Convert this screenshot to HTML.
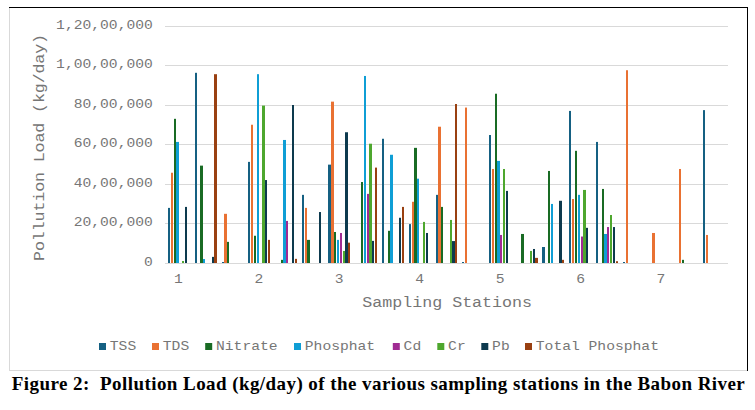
<!DOCTYPE html>
<html><head><meta charset="utf-8"><style>
html,body{margin:0;padding:0;width:755px;height:410px;overflow:hidden;background:#fff}
</style></head><body>
<svg width="755" height="410" style="position:absolute;left:0;top:0">
<rect x="0" y="0" width="755" height="410" fill="#fff"/>
<rect x="9" y="370" width="739" height="1" fill="#D9D9D9"/>
<rect x="9" y="7" width="1" height="364" fill="#D9D9D9"/>
<rect x="9" y="7" width="739" height="1" fill="#000"/>
<rect x="747" y="7" width="1" height="364" fill="#000"/>
<rect x="165.0" y="26" width="563.0" height="1" fill="#D9D9D9"/><rect x="165.0" y="65" width="563.0" height="1" fill="#D9D9D9"/><rect x="165.0" y="105" width="563.0" height="1" fill="#D9D9D9"/><rect x="165.0" y="144" width="563.0" height="1" fill="#D9D9D9"/><rect x="165.0" y="184" width="563.0" height="1" fill="#D9D9D9"/><rect x="165.0" y="223" width="563.0" height="1" fill="#D9D9D9"/><rect x="165.0" y="263" width="563.0" height="1" fill="#D9D9D9"/>
<rect x="168" y="207.90" width="2" height="55.10" fill="#156082"/><rect x="171" y="172.74" width="2" height="90.26" fill="#E97132"/><rect x="174" y="118.82" width="2" height="144.18" fill="#196B24"/><rect x="176" y="141.93" width="3" height="121.07" fill="#0F9ED5"/><rect x="182" y="261.02" width="2" height="1.98" fill="#4EA72E"/><rect x="185" y="206.91" width="2" height="56.09" fill="#0D3A4E"/><rect x="195" y="72.81" width="2" height="190.19" fill="#156082"/><rect x="200" y="165.63" width="3" height="97.37" fill="#196B24"/><rect x="203" y="259.05" width="2" height="3.95" fill="#0F9ED5"/><rect x="212" y="256.88" width="2" height="6.12" fill="#0D3A4E"/><rect x="214" y="74.19" width="3" height="188.81" fill="#994011"/><rect x="222" y="262.01" width="2" height="0.99" fill="#156082"/><rect x="224" y="213.82" width="3" height="49.18" fill="#E97132"/><rect x="227" y="241.87" width="2" height="21.13" fill="#196B24"/><rect x="248" y="161.88" width="2" height="101.12" fill="#156082"/><rect x="251" y="124.75" width="2" height="138.25" fill="#E97132"/><rect x="254" y="235.75" width="2" height="27.25" fill="#196B24"/><rect x="257" y="74.19" width="2" height="188.81" fill="#0F9ED5"/><rect x="262" y="105.59" width="3" height="157.41" fill="#4EA72E"/><rect x="265" y="180.05" width="2" height="82.95" fill="#0D3A4E"/><rect x="268" y="239.89" width="2" height="23.11" fill="#994011"/><rect x="281" y="259.84" width="2" height="3.16" fill="#196B24"/><rect x="283" y="139.96" width="3" height="123.04" fill="#0F9ED5"/><rect x="286" y="220.93" width="2" height="42.07" fill="#A02B93"/><rect x="292" y="105.00" width="2" height="158.00" fill="#0D3A4E"/><rect x="295" y="258.85" width="2" height="4.15" fill="#994011"/><rect x="302" y="194.86" width="2" height="68.14" fill="#156082"/><rect x="305" y="207.90" width="2" height="55.10" fill="#E97132"/><rect x="307" y="239.89" width="3" height="23.11" fill="#196B24"/><rect x="319" y="212.04" width="2" height="50.96" fill="#0D3A4E"/><rect x="328" y="164.64" width="3" height="98.36" fill="#156082"/><rect x="331" y="101.64" width="3" height="161.36" fill="#E97132"/><rect x="334" y="231.99" width="2" height="31.01" fill="#196B24"/><rect x="337" y="239.89" width="2" height="23.11" fill="#0F9ED5"/><rect x="340" y="232.98" width="2" height="30.02" fill="#A02B93"/><rect x="343" y="250.95" width="2" height="12.05" fill="#4EA72E"/><rect x="345" y="132.25" width="3" height="130.75" fill="#0D3A4E"/><rect x="348" y="242.66" width="2" height="20.34" fill="#994011"/><rect x="361" y="182.02" width="2" height="80.98" fill="#196B24"/><rect x="364" y="75.97" width="2" height="187.03" fill="#0F9ED5"/><rect x="367" y="193.88" width="2" height="69.12" fill="#A02B93"/><rect x="369" y="143.71" width="3" height="119.29" fill="#4EA72E"/><rect x="372" y="240.88" width="2" height="22.12" fill="#0D3A4E"/><rect x="375" y="167.61" width="2" height="95.39" fill="#994011"/><rect x="382" y="138.77" width="2" height="124.23" fill="#156082"/><rect x="388" y="230.81" width="2" height="32.19" fill="#196B24"/><rect x="390" y="154.77" width="3" height="108.23" fill="#0F9ED5"/><rect x="399" y="217.77" width="2" height="45.23" fill="#0D3A4E"/><rect x="402" y="206.91" width="2" height="56.09" fill="#994011"/><rect x="409" y="224.09" width="2" height="38.91" fill="#156082"/><rect x="412" y="201.78" width="2" height="61.22" fill="#E97132"/><rect x="414" y="147.86" width="3" height="115.14" fill="#196B24"/><rect x="417" y="178.67" width="2" height="84.33" fill="#0F9ED5"/><rect x="423" y="221.92" width="2" height="41.08" fill="#4EA72E"/><rect x="426" y="232.98" width="2" height="30.02" fill="#0D3A4E"/><rect x="436" y="194.86" width="2" height="68.14" fill="#156082"/><rect x="438" y="126.72" width="3" height="136.28" fill="#E97132"/><rect x="441" y="206.91" width="2" height="56.09" fill="#196B24"/><rect x="450" y="219.94" width="2" height="43.06" fill="#4EA72E"/><rect x="452" y="241.08" width="3" height="21.92" fill="#0D3A4E"/><rect x="455" y="104.01" width="2" height="158.99" fill="#994011"/><rect x="462" y="262.01" width="2" height="0.99" fill="#156082"/><rect x="465" y="107.57" width="2" height="155.43" fill="#E97132"/><rect x="489" y="135.02" width="2" height="127.98" fill="#156082"/><rect x="492" y="168.99" width="2" height="94.01" fill="#E97132"/><rect x="495" y="93.74" width="2" height="169.26" fill="#196B24"/><rect x="497" y="160.89" width="3" height="102.11" fill="#0F9ED5"/><rect x="500" y="234.96" width="2" height="28.04" fill="#A02B93"/><rect x="503" y="168.99" width="2" height="94.01" fill="#4EA72E"/><rect x="506" y="190.91" width="2" height="72.09" fill="#0D3A4E"/><rect x="521" y="233.97" width="3" height="29.03" fill="#196B24"/><rect x="530" y="250.95" width="2" height="12.05" fill="#4EA72E"/><rect x="533" y="248.98" width="2" height="14.02" fill="#0D3A4E"/><rect x="535" y="257.87" width="3" height="5.13" fill="#994011"/><rect x="542" y="247.00" width="3" height="16.00" fill="#156082"/><rect x="548" y="170.96" width="2" height="92.04" fill="#196B24"/><rect x="551" y="203.95" width="2" height="59.05" fill="#0F9ED5"/><rect x="559" y="200.79" width="3" height="62.21" fill="#0D3A4E"/><rect x="562" y="259.84" width="2" height="3.16" fill="#994011"/><rect x="569" y="110.92" width="2" height="152.08" fill="#156082"/><rect x="572" y="199.01" width="2" height="63.99" fill="#E97132"/><rect x="575" y="150.82" width="2" height="112.18" fill="#196B24"/><rect x="578" y="194.86" width="2" height="68.14" fill="#0F9ED5"/><rect x="581" y="236.53" width="2" height="26.47" fill="#A02B93"/><rect x="583" y="189.93" width="3" height="73.07" fill="#4EA72E"/><rect x="586" y="227.84" width="2" height="35.16" fill="#0D3A4E"/><rect x="596" y="141.93" width="2" height="121.07" fill="#156082"/><rect x="602" y="188.94" width="2" height="74.06" fill="#196B24"/><rect x="604" y="233.97" width="3" height="29.03" fill="#0F9ED5"/><rect x="607" y="227.06" width="2" height="35.94" fill="#A02B93"/><rect x="610" y="215.01" width="2" height="47.99" fill="#4EA72E"/><rect x="613" y="227.06" width="2" height="35.94" fill="#0D3A4E"/><rect x="616" y="261.22" width="2" height="1.78" fill="#994011"/><rect x="623" y="262.01" width="2" height="0.99" fill="#156082"/><rect x="626" y="70.24" width="2" height="192.76" fill="#E97132"/><rect x="652" y="232.98" width="3" height="30.02" fill="#E97132"/><rect x="679" y="168.99" width="2" height="94.01" fill="#E97132"/><rect x="682" y="259.84" width="2" height="3.16" fill="#196B24"/><rect x="703" y="110.13" width="2" height="152.87" fill="#156082"/><rect x="706" y="234.96" width="2" height="28.04" fill="#E97132"/>
<g font-family="'Liberation Mono', monospace" fill="#767676">
<text transform="translate(56.10,29.00) scale(1,0.87)" font-size="14.67" letter-spacing="-0.002" >1,20,00,000</text><text transform="translate(56.10,68.00) scale(1,0.87)" font-size="14.67" letter-spacing="-0.002" >1,00,00,000</text><text transform="translate(73.70,108.00) scale(1,0.87)" font-size="14.67" letter-spacing="-0.002" >80,00,000</text><text transform="translate(73.70,147.00) scale(1,0.87)" font-size="14.67" letter-spacing="-0.002" >60,00,000</text><text transform="translate(73.70,187.00) scale(1,0.87)" font-size="14.67" letter-spacing="-0.002" >40,00,000</text><text transform="translate(73.70,226.00) scale(1,0.87)" font-size="14.67" letter-spacing="-0.002" >20,00,000</text><text transform="translate(144.10,266.00) scale(1,0.87)" font-size="14.67" letter-spacing="-0.002" >0</text>
<text transform="translate(174.00,282.90) scale(1,0.87)" font-size="14.67" letter-spacing="-0.002" >1</text><text transform="translate(254.43,282.90) scale(1,0.87)" font-size="14.67" letter-spacing="-0.002" >2</text><text transform="translate(334.86,282.90) scale(1,0.87)" font-size="14.67" letter-spacing="-0.002" >3</text><text transform="translate(415.29,282.90) scale(1,0.87)" font-size="14.67" letter-spacing="-0.002" >4</text><text transform="translate(495.72,282.90) scale(1,0.87)" font-size="14.67" letter-spacing="-0.002" >5</text><text transform="translate(576.15,282.90) scale(1,0.87)" font-size="14.67" letter-spacing="-0.002" >6</text><text transform="translate(656.58,282.90) scale(1,0.87)" font-size="14.67" letter-spacing="-0.002" >7</text>
<rect x="99" y="343" width="7" height="7" fill="#156082"/><text transform="translate(109.80,349.90) scale(1,0.82)" font-size="14.67" letter-spacing="-0.002" >TSS</text><rect x="152" y="343" width="7" height="7" fill="#E97132"/><text transform="translate(162.80,349.90) scale(1,0.82)" font-size="14.67" letter-spacing="-0.002" >TDS</text><rect x="205.2" y="343" width="7" height="7" fill="#196B24"/><text transform="translate(216.00,349.90) scale(1,0.82)" font-size="14.67" letter-spacing="-0.002" >Nitrate</text><rect x="294" y="343" width="7" height="7" fill="#0F9ED5"/><text transform="translate(304.80,349.90) scale(1,0.82)" font-size="14.67" letter-spacing="-0.002" >Phosphat</text><rect x="392.8" y="343" width="7" height="7" fill="#A02B93"/><text transform="translate(403.60,349.90) scale(1,0.82)" font-size="14.67" letter-spacing="-0.002" >Cd</text><rect x="437.3" y="343" width="7" height="7" fill="#4EA72E"/><text transform="translate(448.10,349.90) scale(1,0.82)" font-size="14.67" letter-spacing="-0.002" >Cr</text><rect x="481.3" y="343" width="7" height="7" fill="#0D3A4E"/><text transform="translate(492.10,349.90) scale(1,0.82)" font-size="14.67" letter-spacing="-0.002" >Pb</text><rect x="525" y="343" width="7" height="7" fill="#994011"/><text transform="translate(535.80,349.90) scale(1,0.82)" font-size="14.67" letter-spacing="-0.002" >Total&#160;Phosphat</text>
<text transform="translate(362.20,307.00) scale(1,0.89)" font-size="16.67" letter-spacing="-0.002" >Sampling&#160;Stations</text>
<g transform="translate(43.9,147.4) rotate(-90)"><text transform="translate(-113.50,0.00) scale(1,0.89)" font-size="16.67" letter-spacing="-0.132" >Pollution&#160;Load&#160;(kg/day)</text></g>
</g>
<text x="11.8" y="389.9" font-family="'Liberation Serif', serif" font-weight="bold" font-size="19" letter-spacing="0.43" fill="#000">Figure 2:&#160; Pollution Load (kg/day) of the various sampling stations in the Babon River</text>
</svg>
</body></html>
